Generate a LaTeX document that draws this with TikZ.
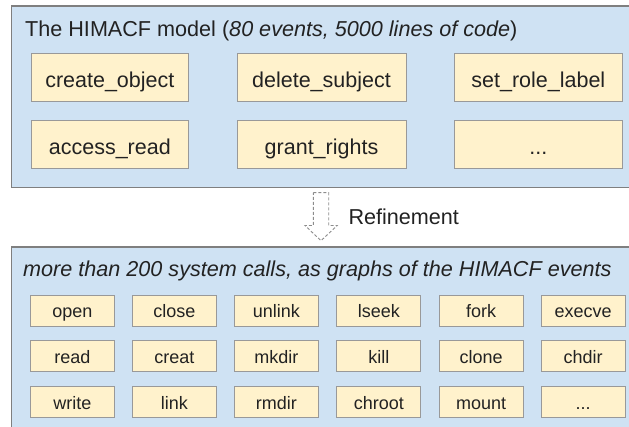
\documentclass[tikz,border=0pt]{standalone}
\usepackage{fontspec}
\setmainfont{Liberation Sans}
\definecolor{panelfill}{HTML}{CFE2F3}
\definecolor{panelline}{HTML}{7F7F7F}
\definecolor{evfill}{HTML}{FFF2CC}
\definecolor{evline}{HTML}{999999}
\definecolor{ink}{HTML}{222222}
\definecolor{arrowline}{HTML}{8C8C8C}
\newcommand{\mydots}{...}
\begin{document}
\begin{tikzpicture}[x=1pt,y=-1pt,
  panel/.style={fill=panelfill,draw=panelline,line width=1.3pt},
  paneltitle/.style={anchor=base west,inner sep=0pt,text=ink,font=\fontsize{21.6}{25}\selectfont},
  event/.style={fill=evfill,draw=evline,line width=1pt,text=ink,
    font=\fontsize{21.5}{24}\selectfont,inner sep=0pt,text height=19pt,text depth=0pt},
  sysc/.style={fill=evfill,draw=evline,line width=1pt,text=ink,
    font=\fontsize{18}{20}\selectfont,inner sep=0pt,minimum width=84pt,
    minimum height=30.5pt,text height=14pt,text depth=0pt},
  refarrow/.style={draw=arrowline,line width=0.9pt,dash pattern=on 3pt off 2pt,line join=miter}
]
\useasboundingbox (0,0) rectangle (629,427);
\clip (0,0) rectangle (629,427);

% panels
\node[panel,anchor=north west,minimum width=640pt,minimum height=181.4pt,inner sep=0pt] (top) at (11,5.3) {};
\node[panel,anchor=north west,minimum width=640pt,minimum height=200pt,inner sep=0pt] (bot) at (11,246.5) {};

\node[paneltitle] (toptitle) at (25,36.7) {The HIMACF model (\textit{80 events, 5000 lines of code})};
\node[paneltitle] (bottitle) at (23,276.7) {\textit{more than 200 system calls, as graphs of the HIMACF events}};

% HIMACF events
\node[event,minimum width=157pt,minimum height=47.7pt] (e11) at (109.8,77.85) {create\_object};
\node[event,minimum width=169pt,minimum height=47.7pt] (e12) at (321.5,77.85) {delete\_subject};
\node[event,minimum width=168.7pt,minimum height=47.7pt] (e13) at (538.35,77.85) {set\_role\_label};
\node[event,minimum width=157pt,minimum height=48pt] (e21) at (109.8,145) {access\_read};
\node[event,minimum width=169pt,minimum height=48pt] (e22) at (321.5,145) {grant\_rights};
\node[event,minimum width=168.7pt,minimum height=48pt] (e23) at (538.35,145) {\mydots};

% system calls
\foreach \name/\x/\y/\lbl in {
  s11/72.3/310.9/open, s12/174.3/310.9/close, s13/276.3/310.9/unlink,
  s14/378.8/310.9/lseek, s15/481.1/310.9/fork, s16/583.2/310.9/execve,
  s21/72.3/356/read, s22/174.3/356/creat, s23/276.3/356/mkdir,
  s24/378.8/356/kill, s25/481.1/356/clone, s26/583.2/356/chdir,
  s31/72.3/402/write, s32/174.3/402/link, s33/276.3/402/rmdir,
  s34/378.8/402/chroot, s35/481.1/402/mount, s36/583.2/402/\mydots}
  \node[sysc] (\name) at (\x,\y) {\lbl};

% refinement arrow
\draw[refarrow] (313.3,192.7) -- (328.7,192.7) -- (328.7,225.5) -- (337.3,225.5)
  -- (321,240.7) -- (305,225.5) -- (313.3,225.5) -- cycle;
\node[paneltitle] (refine) at (348.3,225) {Refinement};
\end{tikzpicture}
\end{document}
